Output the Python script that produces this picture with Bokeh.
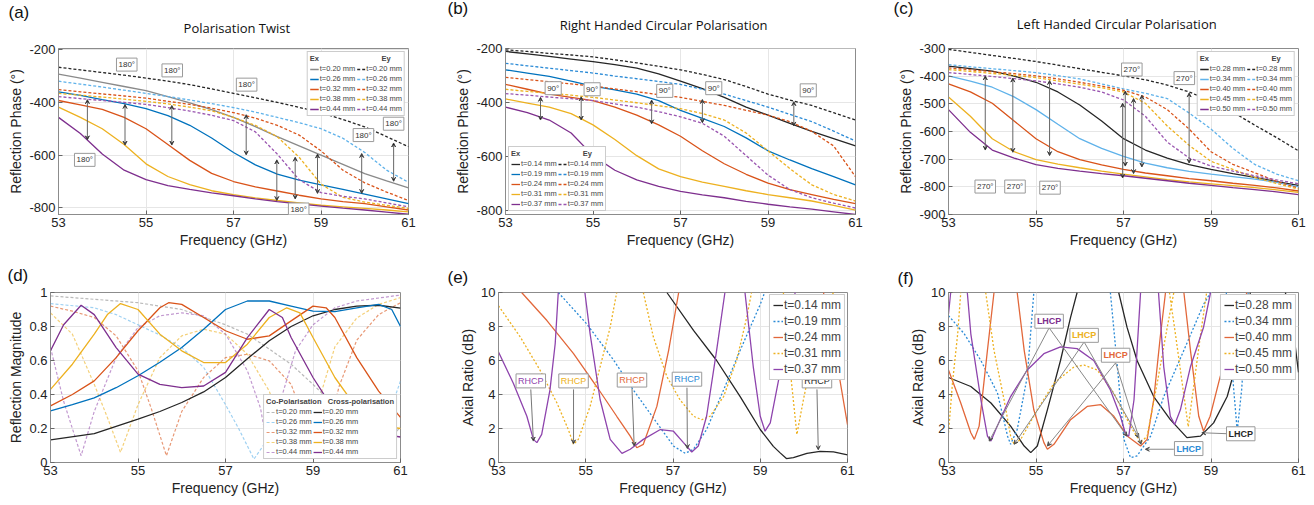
from bokeh.plotting import figure
from bokeh.layouts import column, row
from bokeh.models import Range1d, FixedTicker, Label, Arrow, VeeHead, Legend, LegendItem, Title
from bokeh.embed import file_html
from bokeh.resources import INLINE

N = float("nan")

# ---------------- (a) Polarisation Twist ----------------
A_FREQ = [53, 53.5, 54, 54.5, 55, 55.5, 56, 56.5, 57, 57.5, 58, 58.5, 59, 59.5, 60, 60.5, 61]
A_EX_020 = [-293, -308, -324, -340, -356, -378, -402, -428, -457, -492, -530, -565, -600, -635, -670, -698, -724]
A_EY_020 = [-267, -277, -287, -297, -308, -320, -333, -349, -366, -383, -400, -419, -439, -465, -493, -530, -568]
A_EX_026 = [-360, -374, -390, -405, -424, -450, -487, -535, -590, -637, -672, -695, -713, -730, -748, -766, -784]
A_EY_026 = [-320, -331, -342, -354, -366, -378, -391, -405, -420, -437, -457, -477, -500, -536, -590, -657, -703]
A_EX_032 = [-393, -410, -427, -457, -500, -560, -620, -669, -700, -720, -736, -752, -766, -776, -784, -796, -808]
A_EY_032 = [-352, -360, -368, -376, -384, -396, -408, -422, -439, -460, -487, -524, -584, -657, -705, -740, -772]
A_EX_038 = [-418, -457, -500, -560, -633, -681, -712, -735, -750, -762, -772, -781, -790, -796, -802, -808, -815]
A_EY_038 = [-366, -373, -380, -388, -396, -406, -418, -432, -457, -487, -530, -608, -710, -760, -778, -790, -802]
A_EX_044 = [-457, -518, -596, -657, -693, -716, -730, -743, -754, -766, -776, -785, -793, -801, -808, -816, -824]
A_EY_044 = [-378, -386, -393, -400, -408, -420, -433, -449, -469, -512, -596, -693, -742, -756, -766, -781, -796]
A_LABELS = ["t=0.20 mm", "t=0.26 mm", "t=0.32 mm", "t=0.38 mm", "t=0.44 mm"]
A_ARROW_X = [53.66, 54.52, 55.59, 57.29, 57.99, 58.41, 58.92, 59.93, 60.66]
A_ARROW_TOP = [-390, -408, -412, -447, -618, -608, -596, -594, -554]
A_ARROW_BOT = [-542, -562, -562, -599, -772, -766, -745, -745, -699]
A_BOX_X = [54.56, 55.6, 57.3, 60.66, 59.97, 53.6, 58.49]
A_BOX_Y = [-257, -279, -333, -481, -524, -618, -806]

# ---------------- (b) RHCP ----------------
B_FREQ = A_FREQ
B_EX_014 = [-210, -219, -228, -238, -248, -259, -272, -293, -320, -348, -380, -416, -446, -476, -506, -533, -560]
B_EY_014 = [-204, -210, -217, -223, -230, -241, -252, -265, -278, -295, -314, -340, -368, -390, -410, -437, -464]
B_EX_019 = [-278, -290, -302, -320, -338, -352, -368, -392, -428, -458, -488, -530, -578, -612, -644, -674, -704]
B_EY_019 = [-254, -263, -272, -281, -290, -301, -311, -321, -332, -350, -368, -392, -416, -443, -470, -505, -542]
B_EX_024 = [-332, -350, -368, -380, -392, -416, -446, -482, -524, -578, -626, -665, -698, -722, -740, -758, -774]
B_EY_024 = [-306, -314, -322, -330, -338, -349, -359, -370, -380, -395, -410, -428, -446, -470, -506, -560, -674]
B_EX_031 = [-386, -401, -416, -440, -482, -536, -596, -645, -674, -694, -710, -726, -740, -752, -764, -780, -798]
B_EY_031 = [-350, -358, -365, -372, -380, -390, -400, -411, -422, -440, -464, -512, -578, -644, -704, -740, -764]
B_EX_037 = [-416, -437, -464, -512, -596, -650, -686, -710, -728, -741, -752, -765, -776, -786, -794, -804, -814]
B_EY_037 = [-366, -372, -379, -385, -392, -404, -416, -433, -452, -476, -524, -596, -668, -722, -752, -772, -790]
B_LABELS = ["t=0.14 mm", "t=0.19 mm", "t=0.24 mm", "t=0.31 mm", "t=0.37 mm"]
B_ARROW_X = [53.8, 54.73, 56.34, 57.5, 59.59]
B_ARROW_TOP = [-380, -378, -390, -388, -396]
B_ARROW_BOT = [-464, -464, -478, -474, -486]
B_BOX_X = [54.09, 54.98, 56.64, 57.76, 59.92]
B_BOX_Y = [-346, -350, -356, -346, -354]

# ---------------- (c) LHCP ----------------
C_FREQ = A_FREQ
C_EX_028 = [-364, -373, -382, -400, -422, -457, -504, -562, -626, -667, -696, -720, -737, -752, -766, -781, -795]
C_EY_028 = [-303, -314, -325, -336, -347, -360, -373, -386, -399, -413, -432, -457, -490, -530, -577, -622, -670]
C_EX_034 = [-399, -418, -440, -475, -521, -574, -626, -661, -690, -714, -731, -744, -754, -763, -772, -784, -800]
C_EY_034 = [-358, -366, -373, -380, -387, -398, -410, -428, -446, -462, -481, -533, -591, -661, -719, -754, -778]
C_EX_040 = [-428, -457, -498, -562, -626, -673, -702, -721, -737, -750, -760, -770, -778, -787, -795, -804, -815]
C_EY_040 = [-370, -377, -384, -391, -399, -410, -422, -436, -451, -475, -521, -591, -673, -719, -749, -780, -805]
C_EX_045 = [-475, -545, -626, -673, -702, -718, -731, -743, -754, -764, -774, -782, -789, -796, -803, -811, -820]
C_EY_045 = [-376, -383, -390, -397, -405, -417, -429, -442, -457, -498, -580, -650, -708, -737, -766, -788, -808]
C_EX_050 = [-521, -603, -667, -696, -720, -733, -743, -752, -760, -769, -778, -787, -795, -803, -810, -818, -828]
C_EY_050 = [-387, -394, -401, -409, -417, -428, -440, -457, -486, -545, -638, -696, -725, -743, -760, -775, -789]
C_LABELS = ["t=0.28 mm", "t=0.34 mm", "t=0.40 mm", "t=0.45 mm", "t=0.50 mm"]
C_ARROW_X = [53.84, 54.47, 55.31, 56.98, 57.04, 57.23, 57.42, 58.5]
C_ARROW_TOP = [-399, -407, -416, -498, -454, -481, -469, -461]
C_ARROW_BOT = [-667, -675, -687, -768, -725, -752, -728, -714]
C_BOX_X = [57.19, 58.39, 53.84, 54.52, 55.32]
C_BOX_Y = [-376, -407, -799, -799, -803]

# ---------------- (d) Reflection magnitude ----------------
D_X020_F = [53, 54, 55, 55.5, 56, 56.5, 57, 57.5, 58, 58.5, 59, 59.5, 60, 60.5, 61]
D_X020_V = [0.133, 0.17, 0.255, 0.30, 0.353, 0.415, 0.50, 0.61, 0.716, 0.80, 0.863, 0.90, 0.92, 0.925, 0.908]
D_C020_F = [53, 54, 55, 56, 57, 57.5, 58, 58.5, 59, 59.5, 60, 60.4, 60.7, 61]
D_C020_V = [0.98, 0.96, 0.94, 0.90, 0.81, 0.755, 0.667, 0.578, 0.46, 0.33, 0.18, 0.05, 0.12, 0.21]
D_X026_F = [53, 53.5, 54, 54.5, 55, 55.5, 56, 56.5, 57, 57.5, 58, 58.5, 59, 59.5, 60, 60.5, 60.8, 61]
D_X026_V = [0.304, 0.34, 0.38, 0.44, 0.51, 0.59, 0.676, 0.784, 0.90, 0.95, 0.95, 0.92, 0.89, 0.888, 0.91, 0.93, 0.90, 0.80]
D_C026_F = [53, 54, 54.5, 55, 55.5, 56, 56.5, 57, 57.3, 57.65, 58, 58.5, 59, 59.5, 60, 60.5, 60.8, 61]
D_C026_V = [0.935, 0.91, 0.87, 0.81, 0.75, 0.676, 0.56, 0.34, 0.20, 0.02, 0.15, 0.30, 0.38, 0.35, 0.25, 0.22, 0.33, 0.48]
D_X032_F = [53, 53.5, 54, 54.5, 55, 55.5, 55.7, 56, 56.5, 57, 57.5, 58, 58.5, 59, 59.3, 59.5, 60, 60.5, 61]
D_X032_V = [0.333, 0.40, 0.48, 0.617, 0.775, 0.91, 0.94, 0.93, 0.853, 0.775, 0.725, 0.745, 0.833, 0.92, 0.91, 0.853, 0.617, 0.42, 0.265]
D_C032_F = [53, 53.5, 54, 54.5, 55, 55.3, 55.65, 56, 56.5, 57, 57.5, 58, 58.5, 58.8, 59.1, 59.4, 59.6, 60, 60.5, 61]
D_C032_V = [0.92, 0.89, 0.853, 0.745, 0.54, 0.32, 0.04, 0.30, 0.50, 0.617, 0.637, 0.598, 0.46, 0.25, 0.03, 0.25, 0.45, 0.72, 0.87, 0.94]
D_X038_F = [53, 53.5, 54, 54.3, 54.6, 55, 55.5, 56, 56.5, 57, 57.5, 58, 58.4, 58.7, 59, 59.5, 60, 60.5, 61]
D_X038_V = [0.43, 0.578, 0.755, 0.87, 0.935, 0.90, 0.755, 0.657, 0.588, 0.588, 0.696, 0.853, 0.91, 0.88, 0.735, 0.50, 0.32, 0.22, 0.20]
D_C038_F = [53, 53.5, 54, 54.3, 54.6, 55, 55.5, 56, 56.5, 57, 57.5, 58, 58.3, 58.6, 59, 59.2, 59.5, 60, 60.5, 61]
D_C038_V = [0.88, 0.755, 0.46, 0.265, 0.06, 0.34, 0.617, 0.745, 0.784, 0.755, 0.637, 0.42, 0.20, 0.05, 0.25, 0.42, 0.68, 0.85, 0.93, 0.97]
D_X044_F = [53, 53.3, 53.7, 54, 54.5, 55, 55.5, 56, 56.5, 57, 57.5, 58, 58.3, 58.5, 59, 59.3, 59.7, 60, 60.5, 61]
D_X044_V = [0.657, 0.81, 0.925, 0.87, 0.676, 0.52, 0.46, 0.44, 0.45, 0.53, 0.735, 0.90, 0.853, 0.735, 0.50, 0.38, 0.25, 0.20, 0.17, 0.15]
D_C044_F = [53, 53.3, 53.7, 54, 54.5, 55, 55.5, 56, 56.5, 57, 57.5, 57.8, 58.0, 58.3, 58.6, 59, 59.5, 60, 61]
D_C044_V = [0.676, 0.36, 0.04, 0.30, 0.617, 0.794, 0.863, 0.88, 0.863, 0.755, 0.54, 0.32, 0.03, 0.40, 0.657, 0.81, 0.91, 0.95, 0.985]
D_LABELS = A_LABELS

# ---------------- (e) Axial ratio RHCP ----------------
E_014_F = [56.86, 57.47, 58.0, 58.54, 59.0, 59.3, 59.45, 59.6, 59.76, 60.07, 60.37, 60.68, 61.0]
E_014_V = [10, 7.77, 6.0, 3.88, 1.94, 0.95, 0.58, 0.23, 0.29, 0.54, 0.66, 0.62, 0.45]
E_019_F = [54.37, 55.02, 55.64, 56.09, 56.63, 57.01, 57.28, 57.47, 57.77, 58.16, 58.54, 59.0, 59.1]
E_019_V = [10, 8.16, 6.02, 4.27, 2.33, 0.97, 0.54, 0.78, 1.94, 4.27, 6.6, 9.3, 10]
E_024_F = [53.53, 54.11, 54.72, 55.25, 55.71, 56.02, 56.17, 56.32, 56.63, 56.9, 57.13, N, 60.45, 60.75, 61.0]
E_024_V = [10, 8.35, 6.4, 4.47, 2.72, 1.55, 0.87, 1.07, 3.3, 6.6, 10, N, 10, 6.0, 2.23]
E_031_F = [53, 53.5, 53.95, 54.34, 54.6, 54.72, 54.83, 55.1, 55.33, 55.56, 55.71, N,
           56.32, 56.55, 56.86, 57.16, 57.47, 57.66, 57.85, 58.16, 58.46, 58.69, 58.8, N,
           59.53, 59.68, 59.84, 59.99, 60.22, 60.52, 60.68]
E_031_V = [9.22, 7.38, 5.44, 3.5, 1.94, 1.07, 1.36, 3.3, 5.63, 7.96, 10, N,
           10, 7.38, 5.05, 3.69, 2.72, 2.52, 2.72, 3.88, 6.02, 8.54, 10, N,
           10, 5.6, 1.65, 3.7, 6.6, 9.3, 10]
E_037_F = [53, 53.34, 53.65, 53.8, 53.88, 53.99, 54.18, 54.3, 54.37, N,
           54.98, 55.1, 55.33, 55.56, 55.83, 56.02, 56.32, 56.71, 57.01, 57.24, 57.43, 57.58, 57.77, 58.0, 58.19, N,
           58.65, 58.84, 59.0, 59.11, 59.23, 59.45, 59.6, 59.8]
E_037_V = [6.5, 4.66, 2.72, 1.36, 1.17, 1.65, 4.27, 7.0, 10, N,
           10, 7.57, 3.69, 1.36, 0.54, 0.78, 1.36, 1.94, 1.84, 1.17, 0.62, 0.97, 2.72, 6.6, 10, N,
           10, 5.63, 2.72, 1.84, 2.33, 5.24, 7.0, 10]
E_LABELS = B_LABELS
E_TAG_X = [53.74, 54.72, 56.06, 57.32, 60.3]
E_TAG_Y = [4.8, 4.8, 4.85, 4.9, 4.8]
E_TIP_X = [53.8, 54.72, 56.11, 57.33, 60.33]
E_TIP_Y = [1.26, 1.1, 0.97, 0.82, 0.75]

# ---------------- (f) Axial ratio LHCP ----------------
F_028_F = [53, 53.51, 53.97, 54.42, 54.73, 54.88, 55.03, 55.26, 55.56, 55.79, 55.94, N,
           56.89, 57.08, 57.31, 57.69, 58.07, 58.45, 58.76, 59.06, 59.37, 59.6, 59.9, N,
           60.7, 60.89, 61]
F_028_V = [5.0, 4.47, 3.5, 2.14, 0.97, 0.58, 0.97, 3.1, 6.0, 8.54, 10, N,
           10, 7.96, 6.0, 3.88, 2.52, 1.46, 1.55, 2.33, 3.88, 6.0, 10, N,
           10, 7.6, 5.3]
F_034_F = [53, 53.36, 53.74, 54.12, 54.35, 54.42, 54.57, 54.8, 54.95, N,
           56.7, 56.86, 57.01, 57.16, 57.31, 57.62, 57.92, 58.38, 58.83, 58.99, N,
           59.35, 59.52, 59.6, 59.7, 59.85]
F_034_V = [8.64, 7.57, 6.0, 4.08, 1.55, 1.07, 1.94, 5.05, 10, N,
           10, 5.63, 1.36, 0.29, 0.39, 1.55, 3.88, 6.6, 9.3, 10, N,
           10, 4.27, 1.84, 4.27, 10]
F_040_F = [53, 53.28, 53.51, 53.59, 53.7, 53.89, 54.04, N,
           54.57, 54.73, 54.95, 55.18, 55.26, 55.41, 55.79, 56.17, 56.48, 56.78, 57.09, 57.39, 57.54, 57.69, 57.84, 57.96, N,
           58.38, 58.53, 58.72, 58.83, 58.98, 59.21, 59.52, 59.82]
F_040_V = [5.44, 3.5, 1.75, 1.36, 2.14, 6.6, 10, N,
           10, 6.6, 3.1, 1.17, 0.78, 1.07, 2.52, 3.3, 3.4, 2.72, 1.55, 0.97, 1.36, 3.69, 7.38, 10, N,
           10, 6.6, 2.72, 1.84, 2.72, 5.05, 7.57, 10]
F_045_F = [53, 53.09, 53.21, 53.28, N,
           53.85, 54.04, 54.27, 54.42, 54.5, 54.65, 55.03, 55.41, 55.87, 56.1, 56.4, 56.78, 57.16, 57.39, 57.54, 57.77, 58.0, 58.15, N,
           58.05, 58.19, 58.48, 58.76, 58.9]
F_045_V = [1.75, 4.66, 7.57, 10, N,
           10, 6.6, 3.69, 1.55, 1.07, 1.36, 3.1, 4.66, 5.63, 5.73, 5.44, 4.08, 2.14, 1.17, 1.55, 4.66, 7.96, 10, N,
           10, 7.5, 2.1, 7.5, 10]
F_050_F = [53, 53.05, N,
           53.43, 53.51, 53.74, 53.89, 53.97, 54.08, 54.42, 54.8, 55.18, 55.56, 55.94, 56.32, 56.7, 56.93, 57.05, 57.12, 57.24, 57.31, 57.39, N,
           57.8, 57.92, 58.07, 58.17, 58.3, 58.53, 58.83, 58.99]
F_050_V = [8.74, 10, N,
           10, 7.57, 3.69, 1.55, 1.26, 1.94, 3.88, 5.44, 6.4, 6.8, 6.7, 6.0, 4.27, 2.72, 1.65, 1.55, 3.69, 6.6, 10, N,
           10, 5.63, 2.72, 2.23, 3.1, 5.63, 7.96, 10]
F_LABELS = C_LABELS
F_TAG_X = [55.30, 56.10, 56.82, 59.68, 58.49]
F_TAG_Y = [8.31, 7.48, 6.31, 1.69, 0.82]
F_LINE_X0 = [55.30, 55.30, 56.10, 56.10, 56.82, 56.82, 59.40, 58.15]
F_LINE_Y0 = [7.92, 7.92, 7.09, 7.09, 5.86, 5.86, 1.69, 0.78]
F_LINE_X1 = [53.93, 57.08, 54.50, 57.35, 55.26, 57.40, 58.79, 57.50]
F_LINE_Y1 = [1.26, 1.55, 1.07, 1.46, 0.97, 1.07, 1.75, 0.78]

# ---------------- styling ----------------
GRAY = "#8a8a8a"
BLACK = "#262626"
BLUE = "#0072BD"
MBLUE = "#2a8ad6"
LBLUE = "#5fb2ea"
RED = "#D95319"
ORANGE = "#E2673A"
YELLOW = "#EDB120"
PURPLE = "#7E2F8E"
LPURPLE = "#9a55b0"
APURPLE = "#8E44AD"
AXFONT = "Liberation Sans"
DOT = "3 2"
NB = "\u00a0"


def make_fig(w, h, bl, br, bt, bb, yr, yticks, ylabel, ylabels):
    p = figure(width=w, height=h, x_range=Range1d(53, 61), y_range=Range1d(*yr),
               output_backend="svg", toolbar_location=None, title=None,
               min_border_left=bl, min_border_right=br, min_border_top=bt, min_border_bottom=bb)
    p.xaxis.ticker = FixedTicker(ticks=[53, 55, 57, 59, 61])
    p.yaxis.ticker = FixedTicker(ticks=yticks)
    p.yaxis.major_label_overrides = dict(zip(yticks, ylabels))
    p.xaxis.axis_label = "Frequency (GHz)"
    p.yaxis.axis_label = ylabel
    for ax in (p.xaxis[0], p.yaxis[0]):
        ax.axis_label_text_font = AXFONT
        ax.axis_label_text_font_size = "14px"
        ax.axis_label_text_font_style = "normal"
        ax.axis_label_text_color = "#222"
        ax.major_label_text_font = AXFONT
        ax.major_label_text_font_size = "13px"
        ax.major_label_text_color = "#222"
        ax.major_tick_in = 4
        ax.major_tick_out = 0
        ax.minor_tick_in = 0
        ax.minor_tick_out = 0
        ax.axis_line_color = "#8c8c8c"
        ax.major_tick_line_color = "#666"
        ax.major_label_standoff = 3
        ax.axis_label_standoff = 2
    p.grid.grid_line_color = "#e6e6e6"
    p.outline_line_color = "#8c8c8c"
    p.border_fill_color = "white"
    return p


def titles(p, letter, loff, lstand, title=None, tstand=2):
    if title:
        p.add_layout(Title(text=title, align="center", standoff=tstand, vertical_align="top",
                           text_font="Open Sans", text_font_size="13px",
                           text_font_style="normal", text_color="#111"), "above")
    p.add_layout(Title(text=letter, align="left", offset=loff, standoff=lstand,
                       text_font=AXFONT, text_font_size="17px",
                       text_font_style="normal", text_color="#111"), "above")


def dbl_arrows(p, xs, tops, bots):
    for x, y0, y1 in zip(xs, tops, bots):
        p.add_layout(Arrow(x_start=x, y_start=y0, x_end=x, y_end=y1,
                           start=VeeHead(size=4, line_color="#444", line_width=1),
                           end=VeeHead(size=4, line_color="#444", line_width=1),
                           line_color="#666", line_width=1))


def box_labels(p, xs, ys, text, size="8px", colors=None, bold=False):
    for i, (x, y) in enumerate(zip(xs, ys)):
        p.add_layout(Label(x=x, y=y, text=text, text_align="center", text_baseline="middle",
                           text_font=AXFONT, text_font_size=size,
                           text_font_style="bold" if bold else "normal",
                           text_color=colors[i] if colors else "#333",
                           border_line_color="#9a9a9a", background_fill_color="white",
                           padding=2))


def two_col_legend(p, left, right, title, loc):
    items = [LegendItem(label=l, renderers=[r]) for l, r in left] + \
            [LegendItem(label=l, renderers=[r]) for l, r in right]
    lg = Legend(items=items, location=loc, ncols=2, orientation="vertical",
                title=title, title_text_font=AXFONT, title_text_font_size="7.5px",
                title_text_font_style="bold", title_standoff=1,
                label_text_font=AXFONT, label_text_font_size="7.5px",
                glyph_width=9, glyph_height=8, label_height=8, label_standoff=1,
                spacing=1, padding=2, margin=3, border_line_color="#999",
                background_fill_alpha=1.0)
    p.add_layout(lg)


def one_col_legend(p, pairs, loc):
    items = [LegendItem(label=l, renderers=[r]) for l, r in pairs]
    lg = Legend(items=items, location=loc, label_text_font=AXFONT, label_text_font_size="12px",
                glyph_width=10, glyph_height=12, label_height=12, label_standoff=1,
                spacing=2, padding=3, margin=2, border_line_color="#999",
                background_fill_alpha=1.0)
    p.add_layout(lg)


PHASE_TICKS = [-800, -600, -400, -200]
PHASE_LABELS = ["-800", "-600", "-400", "-200"]
HDR = "Ex" + NB * 30 + "Ey"

# ---------- (a) ----------
pa = make_fig(445, 250, 58, 37, 43, 34, (-825, -196), PHASE_TICKS, "Reflection Phase (°)", PHASE_LABELS)
a_ex = [(A_EX_020, GRAY), (A_EX_026, BLUE), (A_EX_032, RED), (A_EX_038, YELLOW), (A_EX_044, PURPLE)]
a_ey = [(A_EY_020, BLACK), (A_EY_026, LBLUE), (A_EY_032, RED), (A_EY_038, YELLOW), (A_EY_044, LPURPLE)]
ra_ex = [pa.line(A_FREQ, v, line_color=c, line_width=1.3) for v, c in a_ex]
ra_ey = [pa.line(A_FREQ, v, line_color=c, line_width=1.3, line_dash=DOT) for v, c in a_ey]
dbl_arrows(pa, A_ARROW_X, A_ARROW_TOP, A_ARROW_BOT)
box_labels(pa, A_BOX_X, A_BOX_Y, "180°")
two_col_legend(pa, list(zip(A_LABELS, ra_ex)), list(zip(A_LABELS, ra_ey)), HDR, "top_right")
titles(pa, "(a)", -50, -27, NB * 2 + "Polarisation Twist", 20)

# ---------- (b) ----------
pb = make_fig(445, 250, 60, 35, 46, 33, (-814, -199), PHASE_TICKS, "Reflection Phase (°)", PHASE_LABELS)
b_ex = [(B_EX_014, BLACK), (B_EX_019, BLUE), (B_EX_024, RED), (B_EX_031, YELLOW), (B_EX_037, PURPLE)]
b_ey = [(B_EY_014, BLACK), (B_EY_019, MBLUE), (B_EY_024, RED), (B_EY_031, YELLOW), (B_EY_037, LPURPLE)]
rb_ex = [pb.line(B_FREQ, v, line_color=c, line_width=1.3) for v, c in b_ex]
rb_ey = [pb.line(B_FREQ, v, line_color=c, line_width=1.3, line_dash=DOT) for v, c in b_ey]
dbl_arrows(pb, B_ARROW_X, B_ARROW_TOP, B_ARROW_BOT)
box_labels(pb, B_BOX_X, B_BOX_Y, "90°")
two_col_legend(pb, list(zip(B_LABELS, rb_ex)), list(zip(B_LABELS, rb_ey)), HDR, "bottom_left")
titles(pb, "(b)", -58, -29, "Right Handed Circular Polarisation" + NB * 10, 25)

# ---------- (c) ----------
C_TICKS = [-900, -800, -700, -600, -500, -400, -300]
pc = make_fig(424, 250, 58, 16, 43, 35, (-900, -300), C_TICKS, "Reflection Phase (°)", [str(t) for t in C_TICKS])
c_ex = [(C_EX_028, BLACK), (C_EX_034, LBLUE), (C_EX_040, RED), (C_EX_045, YELLOW), (C_EX_050, PURPLE)]
c_ey = [(C_EY_028, BLACK), (C_EY_034, LBLUE), (C_EY_040, RED), (C_EY_045, YELLOW), (C_EY_050, LPURPLE)]
rc_ex = [pc.line(C_FREQ, v, line_color=c, line_width=1.3) for v, c in c_ex]
rc_ey = [pc.line(C_FREQ, v, line_color=c, line_width=1.3, line_dash=DOT) for v, c in c_ey]
dbl_arrows(pc, C_ARROW_X, C_ARROW_TOP, C_ARROW_BOT)
box_labels(pc, C_BOX_X, C_BOX_Y, "270°")
two_col_legend(pc, list(zip(C_LABELS, rc_ex)), list(zip(C_LABELS, rc_ey)), HDR, "top_right")
titles(pc, "(c)", -55, -34, "Left Handed Circular Polarisation" + NB * 4, 28)

# ---------- (d) ----------
D_TICKS = [0, 0.2, 0.4, 0.6, 0.8, 1]
pd_ = make_fig(445, 255, 50, 45, 42, 43, (0, 1), D_TICKS, "Reflection Magnitude",
               ["0", "0.2", "0.4", "0.6", "0.8", "1"])
d_co = [(D_C020_F, D_C020_V, GRAY), (D_C026_F, D_C026_V, LBLUE), (D_C032_F, D_C032_V, RED),
        (D_C038_F, D_C038_V, YELLOW), (D_C044_F, D_C044_V, LPURPLE)]
d_cr = [(D_X020_F, D_X020_V, BLACK), (D_X026_F, D_X026_V, BLUE), (D_X032_F, D_X032_V, RED),
        (D_X038_F, D_X038_V, YELLOW), (D_X044_F, D_X044_V, PURPLE)]
rd_co = [pd_.line(f, v, line_color=c, line_width=1.2, line_dash=DOT, line_alpha=0.6) for f, v, c in d_co]
rd_cr = [pd_.line(f, v, line_color=c, line_width=1.3) for f, v, c in d_cr]
two_col_legend(pd_, list(zip(D_LABELS, rd_co)), list(zip(D_LABELS, rd_cr)),
               "Co-Polarisation" + NB * 3 + "Cross-polarisation", "bottom_right")
titles(pd_, "(d)", -43, 16)

# ---------- (e) ----------
AR_TICKS = [0, 2, 4, 6, 8, 10]
pe = make_fig(445, 255, 53, 43, 42, 42, (0, 10), AR_TICKS, "Axial Ratio (dB)", [str(t) for t in AR_TICKS])
e_curves = [(E_014_F, E_014_V, BLACK, "solid"), (E_019_F, E_019_V, MBLUE, "2 2"),
            (E_024_F, E_024_V, ORANGE, "solid"), (E_031_F, E_031_V, YELLOW, "2 2"),
            (E_037_F, E_037_V, APURPLE, "solid")]
re_ = [pe.line(f, v, line_color=c, line_width=1.3, line_dash=d) for f, v, c, d in e_curves]
for x0, y0, x1, y1 in zip(E_TAG_X, E_TAG_Y, E_TIP_X, E_TIP_Y):
    pe.add_layout(Arrow(x_start=x0, y_start=y0 - 0.5, x_end=x1, y_end=y1,
                        end=VeeHead(size=4, line_color="#555", line_width=1),
                        line_color="#777", line_width=1))
box_labels(pe, E_TAG_X, E_TAG_Y, "RHCP", size="9px", colors=[APURPLE, YELLOW, ORANGE, MBLUE, BLACK])
one_col_legend(pe, list(zip(E_LABELS, re_)), "top_right")
titles(pe, "(e)", -51, 12)

# ---------- (f) ----------
pf = make_fig(424, 255, 58, 16, 42, 42, (0, 10), AR_TICKS, "Axial Ratio (dB)", [str(t) for t in AR_TICKS])
f_curves = [(F_028_F, F_028_V, BLACK, "solid"), (F_034_F, F_034_V, MBLUE, "2 2"),
            (F_040_F, F_040_V, ORANGE, "solid"), (F_045_F, F_045_V, YELLOW, "2 2"),
            (F_050_F, F_050_V, APURPLE, "solid")]
rf_ = [pf.line(f, v, line_color=c, line_width=1.3, line_dash=d) for f, v, c, d in f_curves]
for x0, y0, x1, y1 in zip(F_LINE_X0, F_LINE_Y0, F_LINE_X1, F_LINE_Y1):
    pf.add_layout(Arrow(x_start=x0, y_start=y0, x_end=x1, y_end=y1,
                        end=VeeHead(size=4, line_color="#555", line_width=1),
                        line_color="#888", line_width=1))
box_labels(pf, F_TAG_X, F_TAG_Y, "LHCP", size="9px", colors=[PURPLE, YELLOW, ORANGE, BLACK, MBLUE], bold=True)
one_col_legend(pf, list(zip(F_LABELS, rf_)), "top_right")
titles(pf, "(f)", -51, 10)

layout = column(row(pa, pb, pc), row(pd_, pe, pf))
open("out.html", "w").write(file_html(layout, INLINE))
